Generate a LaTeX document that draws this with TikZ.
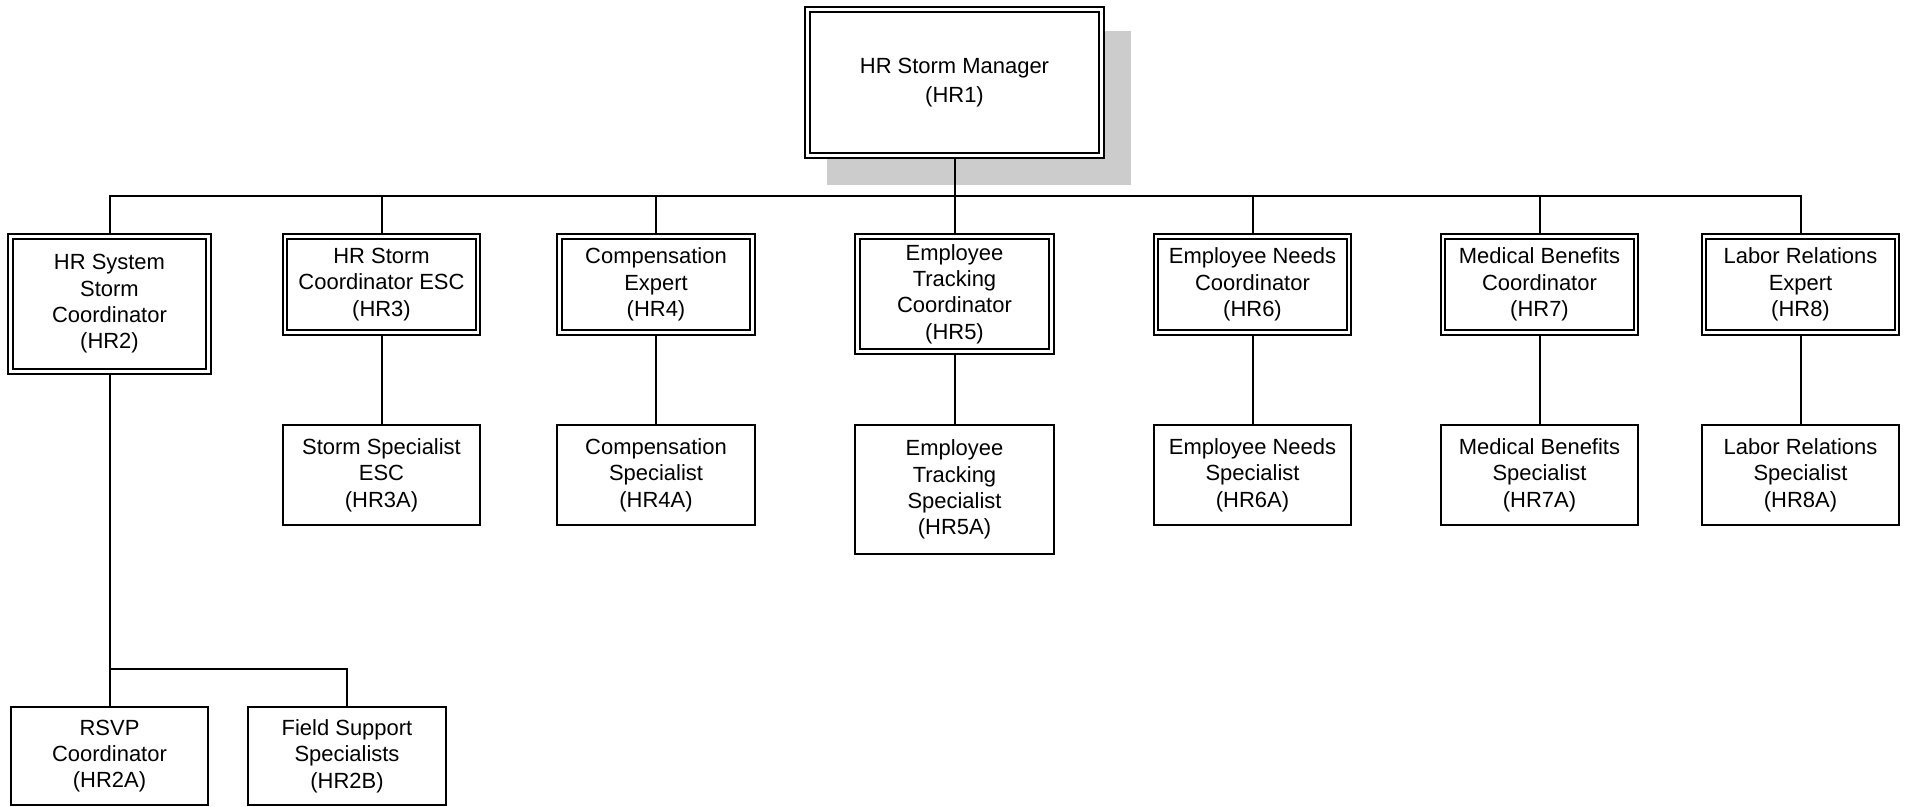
\documentclass[tikz,border=0pt]{standalone}
\usepackage{fontspec}
\setmainfont{Liberation Sans}
\usetikzlibrary{backgrounds}
\definecolor{shadowgray}{gray}{0.8}
\begin{document}
\begin{tikzpicture}[x=0.02cm, y=-0.02cm,
    box/.style={fill=white, align=center, inner sep=0pt, font=\fontsize{12.5}{15}\selectfont},
    post/.style={box, draw, double, line width=0.04cm, double distance=0.05cm, minimum width=3.87cm, minimum height=1.93cm},
    staff/.style={box, draw, line width=0.04cm, minimum width=3.96cm, minimum height=2cm},
    link/.style={line width=0.04cm}]
\useasboundingbox (0,0) rectangle (1908,807);

% manager
\node[post, minimum width=5.89cm, minimum height=2.93cm, font=\fontsize{12.5}{16.6}\selectfont] (hr1) at (954.5,82.5) {HR Storm Manager\\(HR1)};

% coordinators
\node[post, minimum width=3.97cm, minimum height=2.71cm] (hr2) at (109.5,304) {HR System\\Storm\\Coordinator\\(HR2)};
\node[post] (hr3) at (381.5,284.5) {HR Storm\\Coordinator ESC\\(HR3)};
\node[post] (hr4) at (656,284.5) {Compensation\\Expert\\(HR4)};
\node[post, minimum width=3.89cm, minimum height=2.31cm] (hr5) at (954.5,294) {Employee\\Tracking\\Coordinator\\(HR5)};
\node[post] (hr6) at (1252.5,284.5) {Employee Needs\\Coordinator\\(HR6)};
\node[post] (hr7) at (1539.5,284.5) {Medical Benefits\\Coordinator\\(HR7)};
\node[post] (hr8) at (1800.5,284.5) {Labor Relations\\Expert\\(HR8)};

% specialists
\node[staff] (hr3a) at (381.5,475) {Storm Specialist\\ESC\\(HR3A)};
\node[staff] (hr4a) at (656,475) {Compensation\\Specialist\\(HR4A)};
\node[staff, minimum width=3.98cm, minimum height=2.58cm] (hr5a) at (954.5,489.5) {Employee\\Tracking\\Specialist\\(HR5A)};
\node[staff] (hr6a) at (1252.5,475) {Employee Needs\\Specialist\\(HR6A)};
\node[staff] (hr7a) at (1539.5,475) {Medical Benefits\\Specialist\\(HR7A)};
\node[staff] (hr8a) at (1800.5,475) {Labor Relations\\Specialist\\(HR8A)};
\node[staff, minimum height=1.96cm] (hr2a) at (109.5,756) {RSVP\\Coordinator\\(HR2A)};
\node[staff, minimum height=1.96cm] (hr2b) at (347,756) {Field Support\\Specialists\\(HR2B)};

\coordinate (bus) at (954.5,196);
\coordinate (split) at (109.5,669);

\begin{scope}[on background layer]
    \fill[shadowgray] ([shift={(21,23)}]hr1.north west) rectangle ([shift={(28,28)}]hr1.south east);
    \draw[link] (hr1.south) -- (bus);
    \foreach \c in {hr2,hr3,hr4,hr5,hr6,hr7,hr8}
    {
        \draw[link] (bus) -| (\c.north);
    }
    \foreach \p/\q in {hr3/hr3a,hr4/hr4a,hr5/hr5a,hr6/hr6a,hr7/hr7a,hr8/hr8a,hr2/hr2a}
    {
        \draw[link] (\p.south) -- (\q.north);
    }
    \draw[link] (split) -| (hr2b.north);
\end{scope}
\end{tikzpicture}
\end{document}
